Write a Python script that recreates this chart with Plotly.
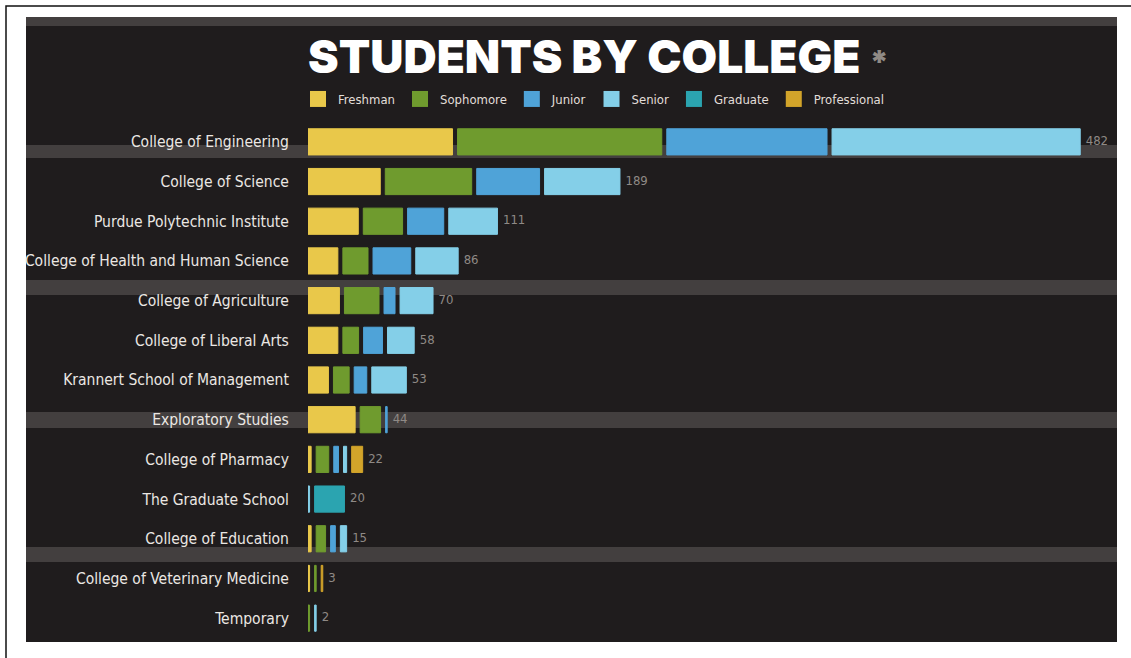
import plotly.graph_objects as go

# ---------------- data ----------------
colleges = [
    "College of Engineering", "College of Science", "Purdue Polytechnic Institute",
    "College of Health and Human Science", "College of Agriculture", "College of Liberal Arts",
    "Krannert School of Management", "Exploratory Studies", "College of Pharmacy",
    "The Graduate School", "College of Education", "College of Veterinary Medicine", "Temporary",
]
series_names = ["Freshman", "Sophomore", "Junior", "Senior", "Graduate", "Professional"]
freshman     = [92, 46, 32, 19, 20, 19, 13, 30, 2, 0, 2, 1, 0]
sophomore    = [130, 55, 25, 16, 22, 10, 10, 13, 8, 0, 6, 1, 1]
junior       = [102, 40, 23, 24, 7, 12, 8, 1, 3, 0, 3, 0, 0]
senior       = [158, 48, 31, 27, 21, 17, 22, 0, 2, 1, 4, 0, 1]
graduate     = [0, 0, 0, 0, 0, 0, 0, 0, 0, 19, 0, 0, 0]
professional = [0, 0, 0, 0, 0, 0, 0, 0, 7, 0, 0, 1, 0]
totals       = [482, 189, 111, 86, 70, 58, 53, 44, 22, 20, 15, 3, 2]

series_values = [freshman, sophomore, junior, senior, graduate, professional]
colors = ["#e9c84a", "#6f9b2e", "#4fa3d8", "#84cfe8", "#2ba4b0", "#d2a42a"]

# ---------------- geometry ----------------
W, H = 1131, 658
PL, PR, PT, PB = 308, 1117, 122, 638   # plot area in pixels
GAP = 3.2                               # gap between segments (data units)
XMAX = 515

def px(x):
    return (x - PL) / (PR - PL)

def py(y):
    return (PB - y) / (PB - PT)

label_font = "Liberation Sans Narrow, DejaVu Sans Condensed, Arial Narrow, sans-serif"

# compute stacked bases with gaps
n = len(colleges)
cursor = [0.0] * n
bases = []
for vals in series_values:
    b = []
    for i, v in enumerate(vals):
        if v > 0:
            b.append(cursor[i])
            cursor[i] += v + GAP
        else:
            b.append(None)
    bases.append(b)
ends = [c - GAP for c in cursor]

fig = go.Figure()
for name, vals, b, col in zip(series_names, series_values, bases, colors):
    fig.add_trace(go.Bar(
        orientation="h", y=colleges,
        x=[v if v > 0 else None for v in vals], base=b,
        name=name, marker=dict(color=col, line=dict(color=col, width=1)),
        width=0.66, showlegend=False, hoverinfo="x+name",
    ))
    # legend proxy with a larger square
    fig.add_trace(go.Scatter(
        x=[None], y=[None], mode="markers", name=name,
        marker=dict(symbol="square", size=18, color=col),
        showlegend=True,
    ))

fig.add_trace(go.Scatter(
    x=[e + 3.5 for e in ends], y=colleges, mode="text", text=[str(t) for t in totals],
    textposition="middle right", showlegend=False, hoverinfo="skip",
    textfont=dict(family=label_font, size=13, color="#8f8a86"),
))

shapes = []
# dark panel
shapes.append(dict(type="rect", xref="paper", yref="paper", layer="below",
                   x0=px(26), x1=px(1117), y0=py(642), y1=py(17),
                   fillcolor="#1f1c1d", line=dict(width=0)))
# scanner stripes
for y0, y1 in [(17, 26), (145, 158), (280, 295), (412, 428), (547, 562)]:
    shapes.append(dict(type="rect", xref="paper", yref="paper", layer="below",
                       x0=px(26), x1=px(1117), y0=py(y1), y1=py(y0),
                       fillcolor="#4c4949", opacity=0.8, line=dict(width=0)))
# page frame
shapes.append(dict(type="rect", xref="paper", yref="paper", layer="below",
                   x0=px(6), x1=px(1140), y0=py(670), y1=py(6),
                   fillcolor="rgba(0,0,0,0)", line=dict(color="#111111", width=1.5)))

fig.update_layout(
    width=W, height=H,
    margin=dict(l=PL, r=W - PR, t=PT, b=H - PB, autoexpand=False),
    paper_bgcolor="white", plot_bgcolor="rgba(0,0,0,0)",
    barmode="overlay",
    shapes=shapes,
    title=dict(
        text="STUDENTS BY COLLEGE <span style='color:#8f8a85;font-size:32px'>*</span>",
        x=PL / W, xanchor="left", xref="container",
        y=1 - 57 / H, yanchor="middle", yref="container",
        font=dict(family="Inter, Lato, DejaVu Sans, sans-serif", size=46, color="white", weight=900),
    ),
    legend=dict(
        orientation="h", x=px(298), xanchor="left", y=py(99), yanchor="middle",
        font=dict(family=label_font, size=13, color="#e2ded9"),
        bgcolor="rgba(0,0,0,0)", itemwidth=30, traceorder="normal",
    ),
    xaxis=dict(range=[0, XMAX], visible=False, fixedrange=True),
    yaxis=dict(
        type="category", categoryorder="array", categoryarray=colleges,
        range=[n - 0.5, -0.5], showgrid=False, zeroline=False, showline=False,
        ticks="outside", ticklen=15, tickcolor="rgba(0,0,0,0)", automargin=False,
        tickfont=dict(family=label_font, size=15.5, color="#ebe7e3"),
    ),
)

fig.write_html("out.html", config={"displayModeBar": False},
               post_script="document.body.style.margin='0';")
